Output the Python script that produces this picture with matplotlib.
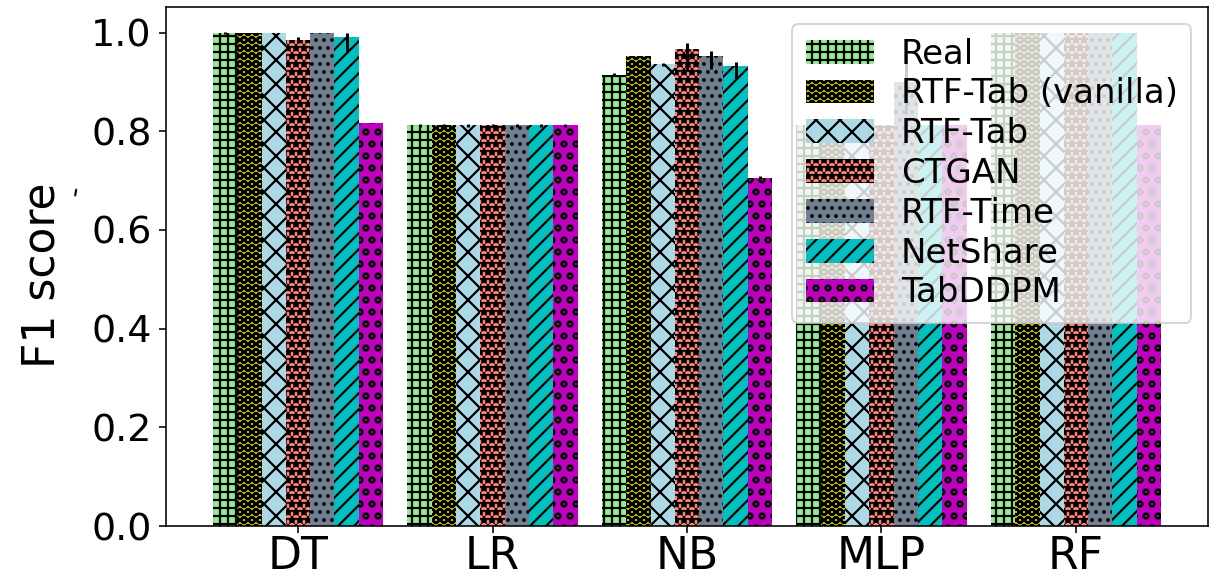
import numpy as np
import matplotlib
matplotlib.use('Agg')
import matplotlib.pyplot as plt

plt.rcParams['hatch.linewidth'] = 1.1

classifiers = ['DT', 'LR', 'NB', 'MLP', 'RF']
methods = ['Real', 'RTF-Tab (vanilla)', 'RTF-Tab', 'CTGAN', 'RTF-Time', 'NetShare', 'TabDDPM']

# mean F1 per method, one value per classifier
real = [1.0, 0.812, 0.915, 0.812, 1.0]
rtf_tab_vanilla = [1.0, 0.812, 0.953, 0.810, 1.0]
rtf_tab = [1.0, 0.812, 0.936, 0.810, 1.0]
ctgan = [0.985, 0.812, 0.966, 0.812, 1.0]
rtf_time = [1.0, 0.812, 0.953, 0.900, 1.0]
netshare = [0.992, 0.812, 0.933, 0.812, 1.0]
tabddpm = [0.817, 0.812, 0.706, 0.812, 0.812]

# error bar extent below / above the mean
err_lo = [
    [0.002, 0.003, 0.003, 0.0, 0.0],
    [0.0, 0.003, 0.0, 0.0, 0.0],
    [0.0, 0.003, 0.003, 0.0, 0.0],
    [0.006, 0.003, 0.044, 0.0, 0.0],
    [0.0, 0.003, 0.027, 0.064, 0.0],
    [0.029, 0.003, 0.027, 0.0, 0.0],
    [0.0, 0.003, 0.003, 0.0, 0.0],
]
err_hi = [
    [0.002, 0.003, 0.003, 0.0, 0.0],
    [0.0, 0.003, 0.0, 0.0, 0.0],
    [0.0, 0.003, 0.003, 0.0, 0.0],
    [0.006, 0.003, 0.013, 0.0, 0.0],
    [0.0, 0.003, 0.009, 0.040, 0.0],
    [0.008, 0.003, 0.008, 0.0, 0.0],
    [0.0, 0.003, 0.003, 0.0, 0.0],
]

scores = [real, rtf_tab_vanilla, rtf_tab, ctgan, rtf_time, netshare, tabddpm]
colors = ['lightgreen', 'y', 'lightblue', 'salmon', 'slategray', 'c', 'm']
hatches = ['+++', 'OOO', 'xx', '***', '...', '///', 'oo']

fig = plt.figure(figsize=(1217 / 144, 576 / 144), dpi=144)
ax = fig.add_axes([0.136, 0.0868, 0.857, 0.9012])

width = 0.125
x = np.arange(len(classifiers))
for i, name in enumerate(methods):
    ax.bar(x + (i - 3) * width, scores[i], width, color=colors[i], hatch=hatches[i],
           yerr=[err_lo[i], err_hi[i]], error_kw={'elinewidth': 1.5, 'ecolor': 'black'},
           label=name)

ax.set_xticks(x)
ax.set_xticklabels(classifiers)
ax.tick_params(axis='x', labelsize=22, pad=0.8)
ax.tick_params(axis='y', labelsize=19)
ax.set_ylabel('F1 score', fontsize=22, labelpad=14)
ax.yaxis.label.set_y(0.483)
fig.text(0.062, 0.669, '-', fontsize=14, rotation=80, ha='center', va='center')
ax.legend(fontsize=17, loc='upper right', labelspacing=0.2)

fig.savefig('out.png', dpi=144)
